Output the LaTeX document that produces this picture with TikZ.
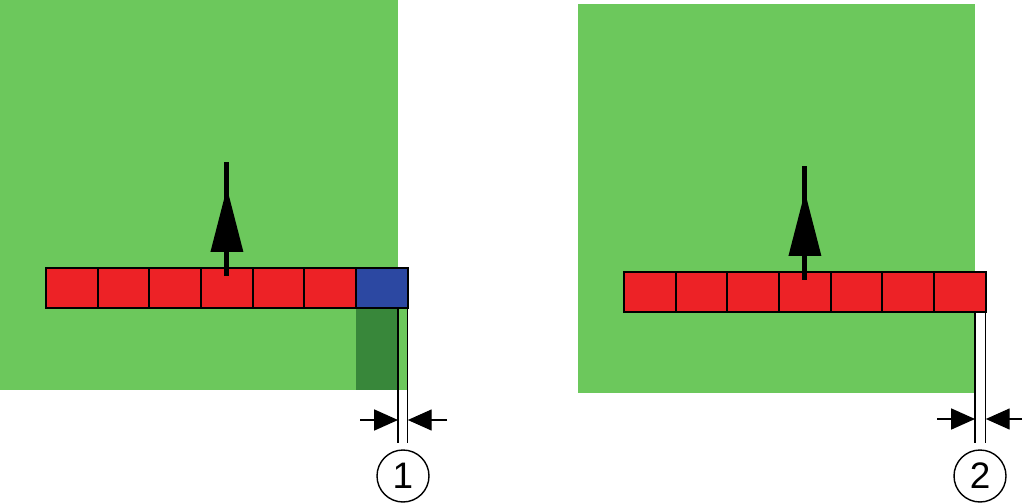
\documentclass[tikz,border=0pt]{standalone}
\usepackage{fontspec}
\setmainfont{Liberation Sans}
\usetikzlibrary{arrows.meta, positioning}
\definecolor{fieldgreen}{RGB}{108,200,92}
\definecolor{overlapgreen}{RGB}{56,135,58}
\definecolor{cellred}{RGB}{237,34,38}
\definecolor{cellblue}{RGB}{44,72,162}
\tikzstyle{cell} = [rectangle, draw=black, line width=1.1pt, fill=cellred, minimum width=1.034cm, minimum height=0.8cm, inner sep=0pt, outer sep=0pt]
\tikzstyle{dimline} = [line width=0.7pt]
\tikzstyle{dimarrow} = [line width=0.7pt, -{Triangle[length=13.6pt,width=12pt]}]
\tikzstyle{marker} = [circle, draw=black, line width=0.8pt, minimum size=1.04cm, inner sep=0pt, font=\fontsize{21}{24}\selectfont]
\newcommand\drivearrow[1]{%
	\draw [line width=2.8pt] (#1.center) ++(0,-12) -- ++(0,-114);
	\fill (#1.center) ++(-16.5,-36) -- ++(33,0) -- ++(-16.5,-64) -- cycle;
}

\begin{document}
\begin{tikzpicture}[x=0.02cm, y=-0.02cm, node distance=0pt]
\useasboundingbox (0,0) rectangle (1023,503);

% Fields
\fill [fieldgreen] (0,0) rectangle (398,390);
\fill [overlapgreen] (356.3,308) rectangle (398,390);
\fill [fieldgreen] (398,308) rectangle (408,390);
\fill [fieldgreen] (578,4) rectangle (975,393);

% Left boom
\node (L1) [cell, anchor=north west] at (46,268) {};
\foreach \i [remember=\i as \prev (initially 1)] in {2,...,6}
	\node (L\i) [cell, right=of L\prev] {};
\node (L7) [cell, right=of L6, fill=cellblue] {};
\drivearrow{L4}

% Right boom
\node (R1) [cell, anchor=north west] at (624,272) {};
\foreach \i [remember=\i as \prev (initially 1)] in {2,...,7}
	\node (R\i) [cell, right=of R\prev] {};
\drivearrow{R4}

% Dimension 1
\coordinate (edge1) at (398,308);
\draw [dimline] (edge1) -- ++(0,135);
\draw [dimline] (L7.south east) -- ++(0,135);
\coordinate (gapL1) at (398,420);
\coordinate (gapR1) at (L7.east |- gapL1);
\draw [dimarrow] (360,420) -- (gapL1);
\draw [dimarrow] (447,420) -- (gapR1);
\node (n1) [marker] at (403,476) {1};

% Dimension 2
\coordinate (edge2) at (975,312);
\draw [dimline] (edge2) -- ++(0,131);
\draw [dimline] (R7.south east) -- ++(0,131);
\coordinate (gapL2) at (975,419);
\coordinate (gapR2) at (R7.east |- gapL2);
\draw [dimarrow] (937,419) -- (gapL2);
\draw [dimarrow] (1022,419) -- (gapR2);
\node (n2) [marker] at (980,476) {2};

\end{tikzpicture}
\end{document}
